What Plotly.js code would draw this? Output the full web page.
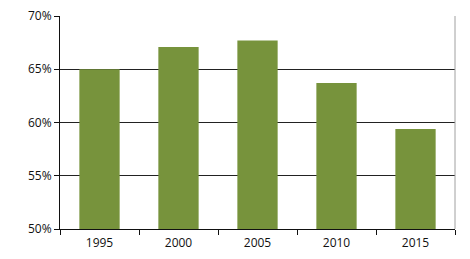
<!DOCTYPE html>
<html>
<head>
<meta charset="utf-8">
<script src="https://cdn.plot.ly/plotly-3.0.1.min.js"></script>
<style>html,body{margin:0;padding:0;background:#fff;}#chart{width:470px;height:259px;}</style>
</head>
<body>
<div id="chart"></div>
<script>
const years = ['1995', '2000', '2005', '2010', '2015'];
const shares = [0.650, 0.671, 0.677, 0.637, 0.594];
const yTicks = [0.50, 0.55, 0.60, 0.65, 0.70];
const yTickLabels = ['50%', '55%', '60%', '65%', '70%'];

const trace = {
  type: 'bar',
  x: years,
  y: shares,
  marker: {color: '#77933c', line: {width: 0}},
  hoverinfo: 'skip'
};

const layout = {
  width: 470,
  height: 259,
  margin: {l: 60, r: 15, t: 16, b: 30},
  paper_bgcolor: '#ffffff',
  plot_bgcolor: '#ffffff',
  bargap: 0.49,
  showlegend: false,
  font: {family: 'Open Sans, sans-serif', size: 12, color: '#111'},
  xaxis: {
    type: 'category',
    showline: true,
    linecolor: '#111',
    linewidth: 1,
    ticks: 'outside',
    tickson: 'boundaries',
    ticklen: 5,
    tickcolor: '#111',
    ticklabelstandoff: 3,
    showgrid: false,
    zeroline: false,
    fixedrange: true
  },
  yaxis: {
    range: [0.50, 0.70],
    tickvals: yTicks,
    ticktext: yTickLabels,
    showline: true,
    linecolor: '#111',
    linewidth: 1,
    ticks: 'outside',
    ticklen: 5,
    tickcolor: '#111',
    showgrid: true,
    gridcolor: '#222',
    gridwidth: 1,
    zeroline: false,
    fixedrange: true
  },
  shapes: [{
    type: 'line', xref: 'paper', yref: 'paper',
    x0: 1, x1: 1, y0: 0, y1: 1,
    line: {color: '#a0a0a0', width: 1}
  }]
};

Plotly.newPlot('chart', [trace], layout, {staticPlot: true, displayModeBar: false});
</script>
</body>
</html>
